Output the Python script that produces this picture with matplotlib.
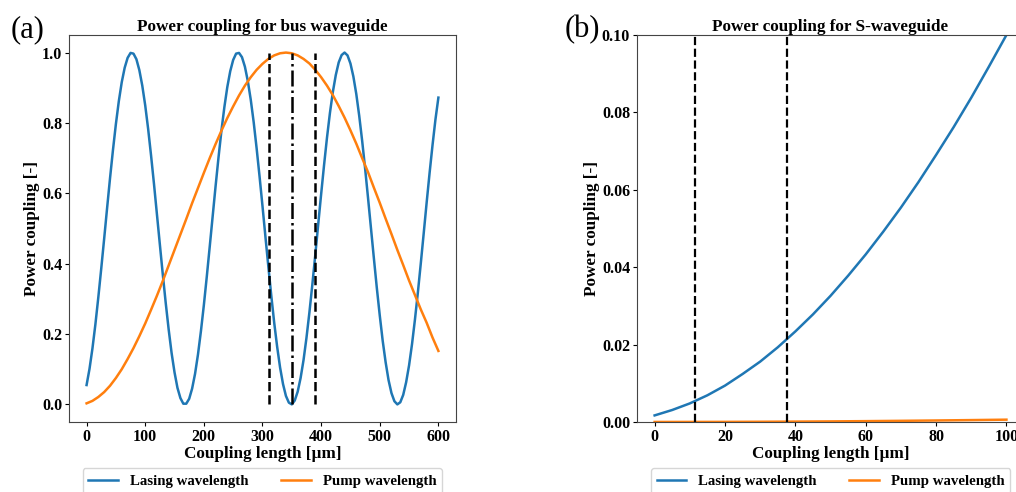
import matplotlib
matplotlib.use('Agg')
import matplotlib.pyplot as plt

matplotlib.rcParams['font.family'] = ['Liberation Serif', 'DejaVu Serif']
matplotlib.rcParams['font.weight'] = 'bold'
matplotlib.rcParams['axes.labelweight'] = 'bold'
matplotlib.rcParams['axes.titleweight'] = 'bold'
matplotlib.rcParams['axes.edgecolor'] = '#444444'

# panel (a): bus waveguide (5 um steps)
bus_x = [5 * i for i in range(121)]
bus_lasing = [0.055, 0.101, 0.159, 0.227, 0.304, 0.386, 0.471, 0.558, 0.643, 0.723,
              0.797, 0.862, 0.916, 0.957, 0.985, 0.999, 0.997, 0.981, 0.950, 0.906,
              0.850, 0.783, 0.707, 0.626, 0.540, 0.454, 0.369, 0.288, 0.213, 0.146,
              0.091, 0.047, 0.018, 0.002, 0.002, 0.016, 0.045, 0.087, 0.142, 0.208,
              0.282, 0.363, 0.448, 0.534, 0.620, 0.702, 0.778, 0.845, 0.902, 0.947,
              0.979, 0.997, 0.999, 0.987, 0.960, 0.919, 0.866, 0.802, 0.728, 0.648,
              0.564, 0.477, 0.392, 0.309, 0.232, 0.164, 0.105, 0.058, 0.024, 0.005,
              0.000, 0.011, 0.036, 0.075, 0.126, 0.189, 0.261, 0.340, 0.424, 0.511,
              0.597, 0.680, 0.758, 0.828, 0.888, 0.936, 0.972, 0.993, 1.000, 0.992,
              0.969, 0.932, 0.882, 0.820, 0.749, 0.671, 0.587, 0.501, 0.415, 0.331,
              0.253, 0.181, 0.120, 0.069, 0.032, 0.009, 0.000, 0.006, 0.027, 0.063,
              0.111, 0.171, 0.241, 0.318, 0.401, 0.487, 0.574, 0.658, 0.737, 0.810,
              0.872]
bus_pump_x = [10 * i for i in range(61)]
bus_pump = [0.003, 0.010, 0.021, 0.035, 0.053, 0.075, 0.100, 0.129, 0.160, 0.194,
            0.230, 0.269, 0.309, 0.351, 0.395, 0.439, 0.483, 0.527, 0.572, 0.615,
            0.658, 0.700, 0.740, 0.778, 0.814, 0.847, 0.878, 0.906, 0.930, 0.951,
            0.968, 0.982, 0.992, 0.998, 1.000, 0.998, 0.992, 0.982, 0.969, 0.951,
            0.930, 0.906, 0.879, 0.848, 0.815, 0.779, 0.741, 0.700, 0.660, 0.616,
            0.573, 0.528, 0.484, 0.439, 0.396, 0.352, 0.311, 0.270, 0.232, 0.190,
            0.152]
bus_marks = [311, 389]
bus_center = 350

# panel (b): S-waveguide
s_x = [5 * i for i in range(21)]
s_lasing = [0.0017, 0.0031, 0.0048, 0.0069, 0.0094, 0.0124, 0.0156, 0.0193, 0.0234,
            0.0278, 0.0326, 0.0378, 0.0433, 0.0492, 0.0554, 0.0620, 0.0690, 0.0762,
            0.0838, 0.0918, 0.1000]
s_pump_x = [10 * i for i in range(11)]
s_pump = [0.00001, 0.00002, 0.00003, 0.00006, 0.0001, 0.00015, 0.00022, 0.0003,
          0.00039, 0.00049, 0.0006]
s_marks = [11.5, 37.5]

fig = plt.figure(figsize=(10.16, 4.92), dpi=100)
ax1 = fig.add_axes([0.0679, 0.1423, 0.3809, 0.7866])
ax2 = fig.add_axes([0.627, 0.1423, 0.3809, 0.7866])

ax1.plot(bus_x, bus_lasing, color='#1f77b4', lw=1.8, label='Lasing wavelength')
ax1.plot(bus_pump_x, bus_pump, color='#ff7f0e', lw=1.8, label='Pump wavelength')
ax1.vlines(bus_marks, 0, 1, colors='k', linestyles='--', lw=1.8)
ax1.vlines(bus_center, 0, 1, colors='k', linestyles='-.', lw=1.8)
ax1.set_title('Power coupling for bus waveguide', fontsize=12.3, pad=3)
ax1.set_xlabel('Coupling length [µm]', fontsize=12.3, labelpad=1)
ax1.set_ylabel('Power coupling [-]', fontsize=12.3, labelpad=1)
ax1.set_xticks([0, 100, 200, 300, 400, 500, 600])

ax2.plot(s_x, s_lasing, color='#1f77b4', lw=1.8, label='Lasing wavelength')
ax2.plot(s_pump_x, s_pump, color='#ff7f0e', lw=1.8, label='Pump wavelength')
for m in s_marks:
    ax2.axvline(m, color='k', ls='--', lw=1.6)
ax2.set_ylim(0, 0.1)
ax2.set_title('Power coupling for S-waveguide', fontsize=12.3, pad=3)
ax2.set_xlabel('Coupling length [µm]', fontsize=12.3, labelpad=1)
ax2.set_ylabel('Power coupling [-]', fontsize=12.3, labelpad=1)
ax2.set_xticks([0, 20, 40, 60, 80, 100])
ax2.set_yticks([0.0, 0.02, 0.04, 0.06, 0.08, 0.10])
ax2.set_yticklabels(['0.00', '0.02', '0.04', '0.06', '0.08', '0.10'])

for ax in (ax1, ax2):
    ax.tick_params(labelsize=11.5, length=3, pad=2)
    ax.legend(loc='upper center', bbox_to_anchor=(0.5, -0.12), ncol=2,
              fontsize=10.7, borderaxespad=0, columnspacing=2.2, fancybox=True)

fig.text(0.01, 0.925, '(a)', fontsize=22, fontweight='normal')
fig.text(0.556, 0.925, '(b)', fontsize=22, fontweight='normal')

fig.savefig('out.png', dpi=100)
